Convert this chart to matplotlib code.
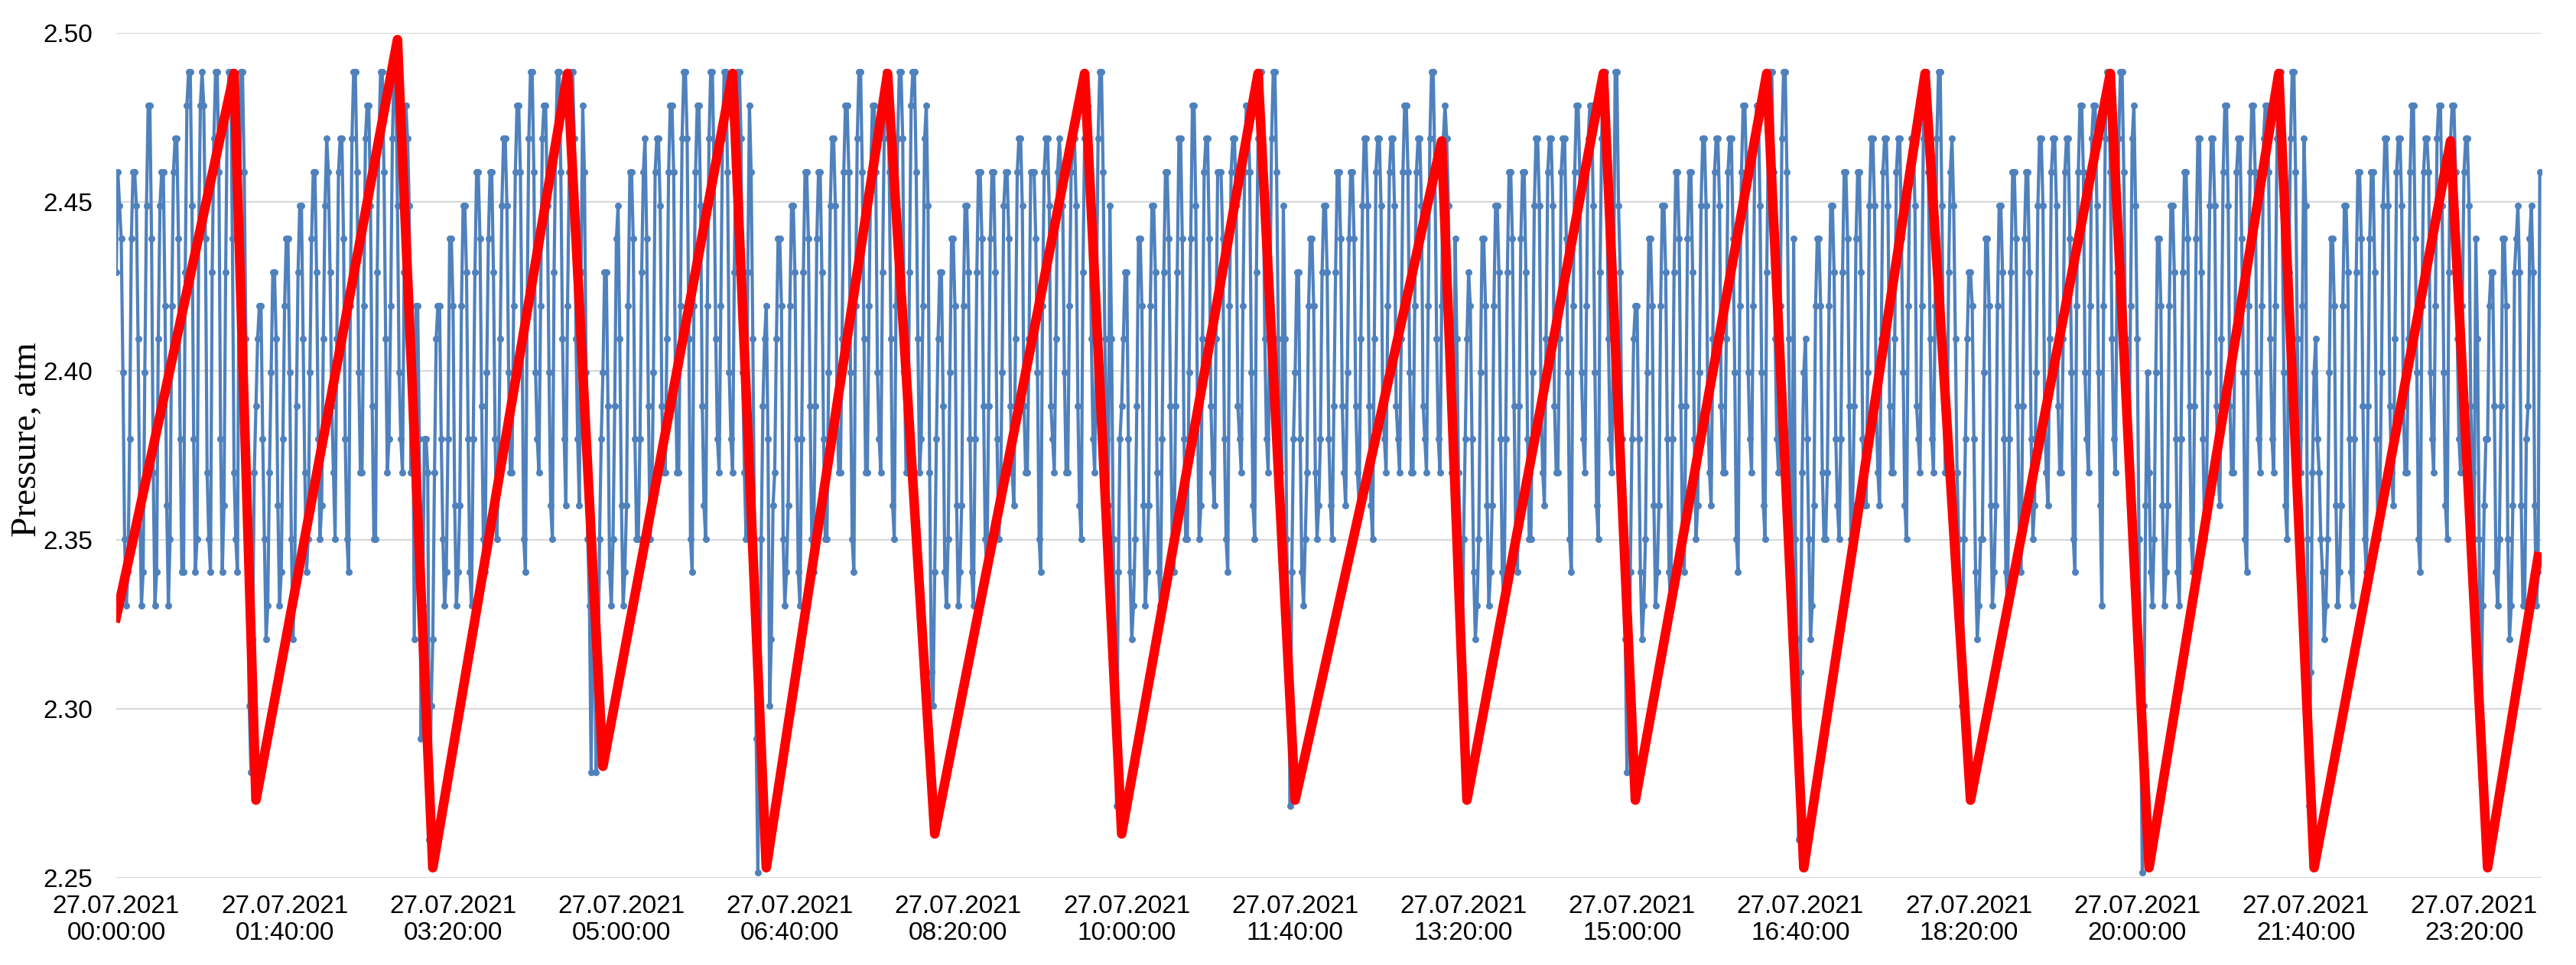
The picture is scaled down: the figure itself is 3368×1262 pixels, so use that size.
import numpy as np
import matplotlib
matplotlib.use("Agg")
import matplotlib.pyplot as plt

# Sensor pressure levels (atm), one letter per level
LEVEL_CODES = "abcdefghijklmnopqrstuvwxyz"
levels = [2.2516, 2.2614, 2.2713, 2.2812, 2.2911, 2.3009, 2.3108, 2.3207, 2.3305,
          2.3404, 2.3503, 2.3601, 2.3700, 2.3799, 2.3897, 2.3996, 2.4095, 2.4193,
          2.4292, 2.4391, 2.4489, 2.4588, 2.4687, 2.4786, 2.4884, 2.4983]

# Blue series, one sample per minute, one string per pump period (spaces split the cycles)
blue_codes = [
    "svutpkij ntvvuqli jpuxxtmi jquvvrli krvwwtnj jsxyyunj ktxyxtmk jswyyvnj lsxyytmk jtyyvqk fdhm",
    "oqrrnkhi mpssqlij nrttpkhj osuuqmjk ptvvsnkl quwvsomk qvwwtnkj rwyyvpmm rwxxuokk swyyvqmn rwyyupnm sxwumqh rrneinnmbf",
    "hmqrrnki jnttrlij lruusnji nsvvtokj ptvvsnkm quwwupmm rvxxvqkj rwyyvpnm rwxxuplk swyyvqnl rvyywqnl sxvpkid ihdfkn",
    "pssoji kotuqlij lrvvtnkk nsvwtokl pvwwuomm qvxxvpmm rwyywqkj rvxxuolk rwyyvqnm rwyyvpnm swyywpmk sxvqkea fkoq",
    "rnfhl mqttrkij lruusnji nsvvtokj otvvsnkk puwwuomm qvxxvpkj rwyyvqmm rvxxvpnm swyyvqlk rwyywpmm sxyyvqmn rwxumgf",
    "jnqssoji kpttrlij lruusnji nsvvtokj otvvsnkl puvvtoml qvwwuomm qvvvtpkj rvwwuonm qvwvupmm rvwwuolk swxxvqnm rwyyvqnl uqkhcjn",
    "oqssnjhi kottrlij lruusmji nsvvtokj oswwtnkk ptxxuokl qvwwtoml qvvvtnkj rvwwuonm rvxxvplk swyyvqnm rwyyvqml uqkhcjn",
    "pssnjik mrttrmkl nsuusnlk osvvtoml ptvvtoml quwwuolk qvwwuonm rvwwuonm qvxxvpmm rvwwuonm rwyyvqnm rwxwupmm tqmkfkn",
    "qsrnjhi kpttrlij lruusnji nsvvtokj otvvsnkk puwwuoml qvwwuomm qvwwtpkj rvxxvpnm rwxxuplk swyyvqnm ryyusnk hdfjnq",
    "rrnjhi kpttrlij lruusnji nsvvtokj otvvsnkl puwwuoml qvwwuomm qvwwtpkj rvxxvpnm rwxxuplk swyyvqnm rwyyvqm jtkhbgm",
    "pqnkhi lrttrmkk mruusnlk nsvvtokl otvvsnll puwwuoml qvwwuomm qvwwtplk rvwwuonm rwyyvqnm rwyyupmm svwuqmk hfknqs",
    "srnjhik kpttrlij lruusnji nsvvtokj otvvsnkl puwwuoml qvwwuomm qvwwtpkj rvxxvpnm rwxxupli rwyyvqnm swyyvqnm rwxuqkf aflp",
    "mji kpttrlij lruusnji nsvvtokj otwwsnkl puwwuoml qvxxuomm qvwwtpkj rvxxvpnm rwxxvqnm rwyyuplk swyyvqnm rwukcgm",
    "pqnmkjhi kpttrlij lruusnji nsvvtokj otvvsnkl puwwuoml qvwwuomm qvxxtpkj rvwwvpnm rwxxuplk swxxvqnm rvwwuomk tqkeiln",
    "nrssoji kottrkhi lstuslii notuslij v",
]

# Red sawtooth overlay: vertex times (minutes from 00:00) and pressures
red_minutes = [0, 70, 83, 167, 188, 268, 289, 366, 386, 458, 486, 575, 597, 678, 700,
               787, 802, 883, 902, 980, 1002, 1074, 1101, 1184, 1207, 1284, 1305, 1386, 1408, 1438]
red_values = [2.327, 2.488, 2.273, 2.498, 2.253, 2.488, 2.283, 2.488, 2.253, 2.488,
              2.263, 2.488, 2.263, 2.488, 2.273, 2.468, 2.273, 2.488, 2.273, 2.488,
              2.253, 2.488, 2.273, 2.488, 2.253, 2.488, 2.253, 2.468, 2.253, 2.345]

x_tick_minutes = [0, 100, 200, 300, 400, 500, 600, 700, 800, 900, 1000, 1100, 1200, 1300, 1400]
x_tick_labels = ["27.07.2021\n00:00:00", "27.07.2021\n01:40:00", "27.07.2021\n03:20:00",
                 "27.07.2021\n05:00:00", "27.07.2021\n06:40:00", "27.07.2021\n08:20:00",
                 "27.07.2021\n10:00:00", "27.07.2021\n11:40:00", "27.07.2021\n13:20:00",
                 "27.07.2021\n15:00:00", "27.07.2021\n16:40:00", "27.07.2021\n18:20:00",
                 "27.07.2021\n20:00:00", "27.07.2021\n21:40:00", "27.07.2021\n23:20:00"]
y_ticks = [2.25, 2.30, 2.35, 2.40, 2.45, 2.50]

codes = "".join(blue_codes).replace(" ", "")
blue_values = np.array([levels[LEVEL_CODES.index(c)] for c in codes])
blue_minutes = np.arange(len(blue_values))

plt.rcParams["font.family"] = ["Liberation Sans", "DejaVu Sans"]

fig = plt.figure(figsize=(33.68, 12.62), dpi=100)
ax = fig.add_axes([0.0451, 0.0903, 0.9415, 0.8756])

ax.plot(blue_minutes, blue_values, color="#4f81bd", lw=3, marker="o",
        markersize=6.5, markeredgewidth=0, zorder=2)
ax.plot(red_minutes, red_values, color="#ff0000", lw=9, solid_joinstyle="round", zorder=3)

ax.set_xlim(0, 1440)
ax.set_ylim(2.25, 2.50)
ax.set_yticks(y_ticks)
ax.set_yticklabels([f"{v:.2f}" for v in y_ticks])
ax.set_xticks(x_tick_minutes)
ax.set_xticklabels(x_tick_labels, linespacing=1.15)

ax.yaxis.grid(True, color="#d9d9d9", lw=1.6)
ax.set_axisbelow(True)
for side in ["left", "right", "top", "bottom"]:
    ax.spines[side].set_visible(False)
ax.tick_params(axis="both", length=0, labelsize=24, colors="black")
ax.tick_params(axis="x", pad=16)
ax.tick_params(axis="y", pad=22)

fig.text(0.0105, 0.545, "Pressure, atm", rotation=90, ha="center", va="center",
         fontsize=34, family="Liberation Serif")

fig.savefig("out.png", dpi=100, facecolor="white")
